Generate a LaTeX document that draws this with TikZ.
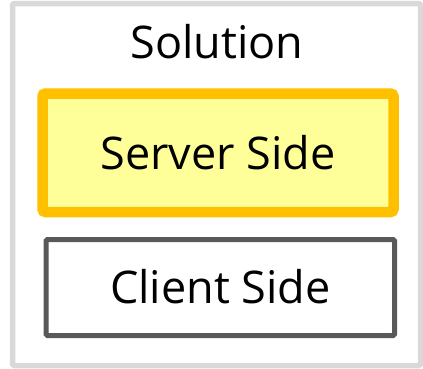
\documentclass[tikz,border=0pt]{standalone}
\usepackage{fontspec}
\setmainfont{Open Sans}
\definecolor{outergray}{HTML}{D9D9D9}
\definecolor{srvorange}{HTML}{FFC000}
\definecolor{srvyellow}{HTML}{FFFF99}
\definecolor{clientgray}{HTML}{595959}
\tikzset{
  lbl/.style={font=\fontsize{45}{45}\selectfont, text=black, inner sep=0pt},
  boxbase/.style={rectangle, inner sep=0pt, text height=32.5pt, text depth=0pt, font=\fontsize{45}{45}\selectfont},
  serverbox/.style={boxbase, draw=srvorange, fill=srvyellow, line width=10.5pt, rounded corners=3pt},
  clientbox/.style={boxbase, draw=clientgray, fill=white, line width=5pt, rounded corners=1.5pt},
  outerbox/.style={rectangle, inner sep=0pt, draw=outergray, fill=white, line width=5.5pt, rounded corners=2pt}
}
\begin{document}
\begin{tikzpicture}[x=1pt,y=-1pt]
\useasboundingbox (0,0) rectangle (423,368);
\node[outerbox, minimum width=408pt, minimum height=362pt] (outer) at (216.5,184.5) {};
\node[lbl, anchor=base] (title) at (217,58) {Solution};
\node[serverbox, minimum width=351pt, minimum height=118.5pt] (server) at (218,152.75) {Server Side};
\node[clientbox, minimum width=348.5pt, minimum height=96pt] (client) at (220.25,287.5) {Client Side};
\end{tikzpicture}
\end{document}
